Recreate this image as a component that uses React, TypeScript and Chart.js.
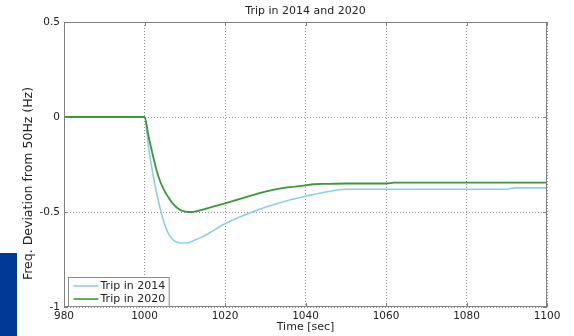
import React, { useEffect, useRef } from 'react';
import { Chart, registerables } from 'chart.js';

Chart.register(...registerables);

// Time axis of the simulation (seconds)
const timeSec = [
  980, 1000, 1001, 1002, 1003, 1004, 1005, 1006, 1007, 1008, 1009, 1010, 1011,
  1012, 1014, 1016, 1018, 1020, 1025, 1030, 1035, 1040, 1042, 1045, 1050, 1060,
  1062, 1070, 1080, 1090, 1092, 1100,
];

// Frequency deviation from 50 Hz after the trip (Hz)
const trip2014 = [
  0, 0, -0.16, -0.29, -0.4, -0.49, -0.565, -0.617, -0.645, -0.658, -0.663, -0.663,
  -0.66, -0.652, -0.635, -0.612, -0.586, -0.562, -0.515, -0.475, -0.443, -0.417,
  -0.408, -0.395, -0.38, -0.38, -0.38, -0.38, -0.38, -0.38, -0.373, -0.373,
];
const trip2020 = [
  0, 0, -0.1, -0.195, -0.28, -0.345, -0.39, -0.425, -0.455, -0.476, -0.49, -0.497,
  -0.5, -0.499, -0.49, -0.478, -0.466, -0.454, -0.423, -0.393, -0.372, -0.36,
  -0.354, -0.352, -0.35, -0.35, -0.345, -0.345, -0.345, -0.345, -0.345, -0.345,
];

const seriesLabels = ['Trip in 2014', 'Trip in 2020'];
const seriesColors = ['#8ccfec', '#389a34'];

const chartTitle = 'Trip in 2014 and 2020';
const xTitle = 'Time [sec]';
const yTitle = 'Freq. Deviation from 50Hz (Hz)';

const FONT = "'DejaVu Sans', Verdana, sans-serif";
const TEXT = '#222222';
const FRAME = '#808080';

export default function App() {
  const canvasRef = useRef<HTMLCanvasElement>(null);

  useEffect(() => {
    const canvas = canvasRef.current;
    if (!canvas) return;

    // Box frame, inward tick marks, rotated y title and the in-plot legend
    const decorations = {
      id: 'decorations',
      afterDraw(chart: any) {
        const { ctx, chartArea: a, scales } = chart;
        ctx.save();

        ctx.strokeStyle = FRAME;
        ctx.lineWidth = 1;
        ctx.strokeRect(a.left + 0.5, a.top + 0.5, a.right - a.left - 1, a.bottom - a.top - 1);

        ctx.beginPath();
        scales.x.ticks.forEach((t: any) => {
          const x = Math.round(scales.x.getPixelForValue(t.value)) + 0.5;
          ctx.moveTo(x, a.bottom);
          ctx.lineTo(x, a.bottom - 4);
          ctx.moveTo(x, a.top);
          ctx.lineTo(x, a.top + 4);
        });
        scales.y.ticks.forEach((t: any) => {
          const y = Math.round(scales.y.getPixelForValue(t.value)) + 0.5;
          ctx.moveTo(a.left, y);
          ctx.lineTo(a.left + 4, y);
          ctx.moveTo(a.right, y);
          ctx.lineTo(a.right - 4, y);
        });
        ctx.stroke();

        // y-axis title
        ctx.save();
        ctx.translate(29, 183.5);
        ctx.rotate(-Math.PI / 2);
        ctx.font = `12.5px ${FONT}`;
        ctx.fillStyle = TEXT;
        ctx.textAlign = 'center';
        ctx.textBaseline = 'middle';
        ctx.fillText(yTitle, 0, 0);
        ctx.restore();

        // legend
        ctx.font = `11px ${FONT}`;
        const textW = Math.max(...seriesLabels.map((l) => ctx.measureText(l).width));
        const rowH = 13;
        const boxW = 5 + 25 + 2 + textW + 4;
        const boxH = rowH * seriesLabels.length + 3;
        const bx = Math.round(a.left + 4) + 0.5;
        const by = Math.round(a.bottom - 1 - boxH) + 0.5;
        ctx.fillStyle = '#ffffff';
        ctx.fillRect(bx, by, boxW, boxH);
        ctx.strokeStyle = '#8a8a8a';
        ctx.lineWidth = 1;
        ctx.strokeRect(bx, by, boxW, boxH);
        seriesLabels.forEach((label, i) => {
          const cy = by + 2 + rowH * (i + 0.5);
          ctx.strokeStyle = seriesColors[i];
          ctx.lineWidth = 1.6;
          ctx.beginPath();
          ctx.moveTo(bx + 5, cy);
          ctx.lineTo(bx + 30, cy);
          ctx.stroke();
          ctx.fillStyle = TEXT;
          ctx.textAlign = 'left';
          ctx.textBaseline = 'middle';
          ctx.fillText(label, bx + 32, cy + 0.5);
        });

        ctx.restore();
      },
    };

    const toPoints = (ys: number[]) => timeSec.map((x, i) => ({ x, y: ys[i] }));

    const chart = new Chart(canvas, {
      type: 'line',
      data: {
        datasets: [
          {
            label: seriesLabels[0],
            data: toPoints(trip2014),
            borderColor: seriesColors[0],
            borderWidth: 1.6,
            pointRadius: 0,
            cubicInterpolationMode: 'monotone',
            order: 1,
          },
          {
            label: seriesLabels[1],
            data: toPoints(trip2020),
            borderColor: seriesColors[1],
            borderWidth: 1.8,
            pointRadius: 0,
            cubicInterpolationMode: 'monotone',
            order: 0,
          },
        ],
      },
      options: {
        responsive: false,
        animation: false,
        devicePixelRatio: 1,
        layout: { padding: { left: 0, right: 27, top: 0, bottom: 0 } },
        plugins: {
          legend: { display: false },
          tooltip: { enabled: false },
          title: {
            display: true,
            text: chartTitle,
            fullSize: false,
            color: TEXT,
            font: { family: FONT, size: 11, weight: 'normal' },
            padding: { top: 5, bottom: 3.8 },
          },
        },
        scales: {
          x: {
            type: 'linear',
            min: 980,
            max: 1100,
            ticks: {
              stepSize: 20,
              color: TEXT,
              padding: 3,
              maxRotation: 0,
              font: { family: FONT, size: 10.5 },
              callback: (v: any) => String(v),
            },
            grid: { color: '#8c8c8c', drawTicks: false, lineWidth: 1 },
            border: { display: false, dash: [1, 2] },
            title: {
              display: true,
              text: xTitle,
              color: TEXT,
              font: { family: FONT, size: 11 },
              padding: { top: 0, bottom: 2.4 },
            },
            afterFit(scale: any) {
              scale.height = 29;
            },
          },
          y: {
            type: 'linear',
            min: -1,
            max: 0.5,
            ticks: {
              stepSize: 0.5,
              color: TEXT,
              padding: 4,
              font: { family: FONT, size: 10.5 },
              callback: (v: any) => String(v),
            },
            grid: { color: '#8c8c8c', drawTicks: false, lineWidth: 1 },
            border: { display: false, dash: [1, 2] },
            afterFit(scale: any) {
              scale.width = 64;
            },
          },
        },
      },
      plugins: [decorations],
    } as any);

    return () => chart.destroy();
  }, []);

  return (
    <div style={{ position: 'fixed', left: 0, top: 0, width: 574, height: 336, background: '#ffffff' }}>
      <canvas ref={canvasRef} width={574} height={336} style={{ display: 'block' }} />
      <div
        style={{
          position: 'absolute',
          left: 0,
          top: 253,
          width: 17,
          height: 83,
          background: '#003a96',
        }}
      />
    </div>
  );
}
